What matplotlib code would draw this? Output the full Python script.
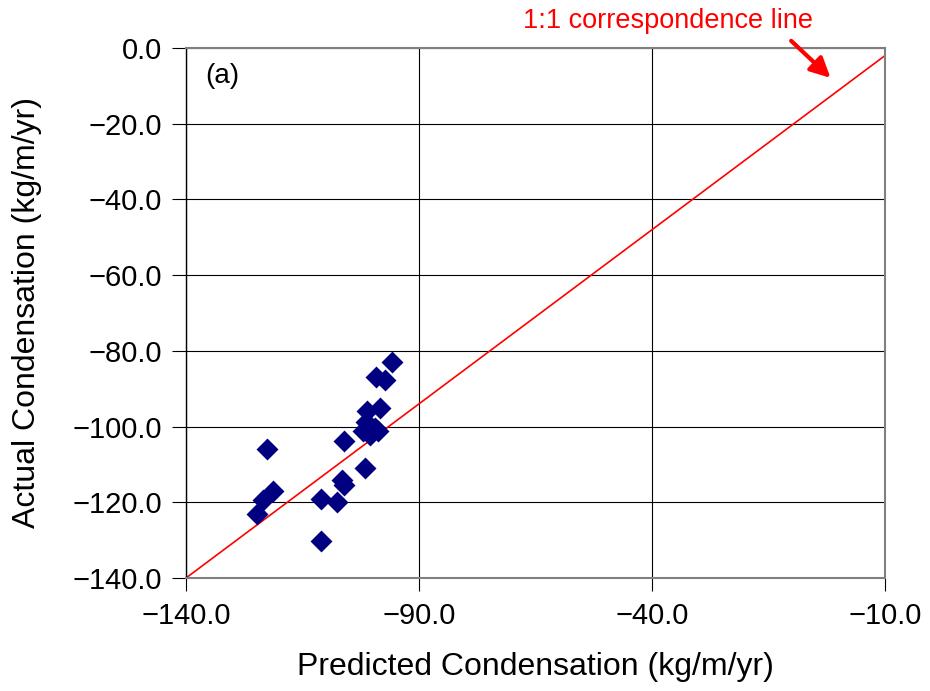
import matplotlib
matplotlib.use("Agg")
import matplotlib.pyplot as plt

plt.rcParams['font.family'] = ['Liberation Sans', 'DejaVu Sans']

# Data (x in plot scale: axis spans -140 .. 0, labelled -140/-90/-40/-10)
pred = [-98.7, -102.0, -100.1, -101.1, -103.8, -104.0, -102.1, -104.5, -103.1, -101.5,
        -123.8, -108.4, -104.1, -108.8, -108.4, -124.5, -122.5, -113.0, -109.8, -125.8, -113.0]
actual = [-83.0, -87.0, -87.8, -95.0, -96.0, -98.7, -100.4, -101.2, -102.3, -101.3,
          -105.9, -103.7, -111.0, -114.1, -115.4, -119.4, -117.0, -119.0, -119.8, -123.2, -130.1]
line_x = [-140, 0]
line_y = [-140, -2.0]
xticks = [-140, -140 + 140/3, -140 + 280/3, 0]
xticklabels = ["\u2212140.0", "\u221290.0", "\u221240.0", "\u221210.0"]
yticks = [0, -20, -40, -60, -80, -100, -120, -140]
yticklabels = ["0.0" if v == 0 else "\u2212%.1f" % abs(v) for v in yticks]

fig = plt.figure(figsize=(9.3, 6.91), dpi=100)
ax = fig.add_axes([186/930, 1-578/691, (885-186)/930, (578-48)/691])

ax.plot(line_x, line_y, color='#ff0000', lw=1.2, zorder=2)
ax.scatter(pred, actual, marker='D', s=125, color='#000080', zorder=3, linewidths=0)

ax.set_xlim(-140, 0)
ax.set_ylim(-140, 0)
ax.set_xticks(xticks)
ax.set_xticklabels(xticklabels)
ax.set_yticks(yticks)
ax.set_yticklabels(yticklabels)
ax.grid(True, color='#000000', lw=0.8, zorder=0)
ax.set_axisbelow(True)
for s in ['top', 'right', 'bottom']:
    ax.spines[s].set_color('#808080')
    ax.spines[s].set_linewidth(1.5)
ax.spines['left'].set_color('#000000')
ax.spines['left'].set_linewidth(1.0)
ax.tick_params(axis='both', labelsize=21, width=0.8, direction='out')
ax.tick_params(axis='x', length=9, pad=8)
ax.tick_params(axis='y', length=10, pad=7)

ax.set_xlabel('Predicted Condensation (kg/m/yr)', fontsize=23, labelpad=16)
ax.set_ylabel('Actual Condensation (kg/m/yr)', fontsize=23, labelpad=22)

ax.text(0.027, 0.972, '(a)', transform=ax.transAxes, fontsize=20, va='top', ha='left')

ax.text(-43.5, 7.0, '1:1 correspondence line', color='#ff0000', fontsize=19.5,
        ha='center', va='center', clip_on=False)
ax.annotate('', xy=(-10.5, -8.4), xytext=(-19.2, 2.4),
            arrowprops=dict(arrowstyle='-|>', color='#ff0000', lw=3, mutation_scale=30),
            annotation_clip=False)

fig.savefig('out.png', dpi=100)
